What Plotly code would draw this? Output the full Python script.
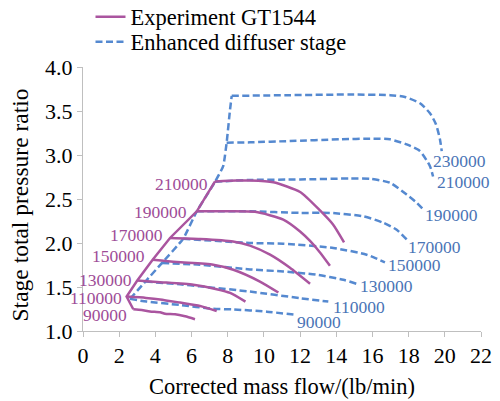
import plotly.graph_objects as go

# ---------------- data ----------------
speeds = ["90000", "110000", "130000", "150000", "170000", "190000", "210000", "230000"]

# Experiment GT1544 (purple, solid)
exp_x = {
    "90000":  [2.78, 3.24, 3.70, 4.26, 4.53, 5.09, 5.64, 6.19],
    "110000": [2.41, 3.48, 4.26, 5.36, 6.47, 7.39],
    "130000": [3.00, 4.26, 6.10, 7.39, 8.13, 8.98],
    "150000": [3.85, 5.18, 7.20, 8.31, 9.78, 10.80],
    "170000": [4.81, 6.47, 8.29, 9.23, 10.34, 11.44, 12.55],
    "190000": [6.29, 7.50, 9.51, 11.07, 12.00, 12.55, 13.10, 13.65],
    "210000": [7.30, 8.50, 9.23, 10.52, 12.00, 13.10, 13.82, 14.43],
}
exp_y = {
    "90000":  [1.247, 1.239, 1.222, 1.213, 1.196, 1.190, 1.167, 1.134],
    "110000": [1.391, 1.376, 1.359, 1.323, 1.285, 1.228],
    "130000": [1.574, 1.555, 1.525, 1.475, 1.433, 1.334],
    "150000": [1.810, 1.783, 1.753, 1.696, 1.562, 1.437],
    "170000": [2.057, 2.046, 2.018, 1.970, 1.867, 1.718, 1.536],
    "190000": [2.360, 2.360, 2.354, 2.266, 2.131, 2.023, 1.893, 1.741],
    "210000": [2.700, 2.710, 2.710, 2.690, 2.580, 2.370, 2.210, 2.007],
}
exp_surge_x = [2.78, 2.41, 3.00, 3.85, 4.81, 6.29, 7.30]
exp_surge_y = [1.247, 1.391, 1.574, 1.810, 2.057, 2.360, 2.700]

# Enhanced diffuser stage (blue, dashed)
enh_x = {
    "90000":  [2.60, 3.52, 5.36, 7.19, 8.29, 10.15, 11.81],
    "110000": [3.45, 5.36, 6.47, 9.23, 12.00, 13.56],
    "130000": [4.36, 6.47, 9.23, 11.07, 12.92, 14.39, 15.13],
    "150000": [5.54, 9.23, 11.07, 13.84, 15.68, 16.69],
    "170000": [6.29, 9.23, 12.00, 13.65, 15.49, 16.60, 17.34, 17.89],
    "190000": [7.30, 9.23, 12.00, 14.76, 15.87, 16.97, 17.89, 18.45, 18.81],
    "210000": [7.94, 9.23, 11.44, 14.20, 16.05, 16.97, 17.89, 18.63, 19.18, 19.35],
    "230000": [8.22, 11.44, 14.76, 16.97, 17.80, 18.63, 19.18, 19.51, 19.73, 19.83],
}
enh_y = {
    "90000":  [1.365, 1.334, 1.296, 1.252, 1.245, 1.220, 1.182],
    "110000": [1.562, 1.530, 1.507, 1.448, 1.373, 1.334],
    "130000": [1.772, 1.753, 1.700, 1.676, 1.639, 1.582, 1.536],
    "150000": [2.049, 2.000, 1.992, 1.943, 1.867, 1.779],
    "170000": [2.360, 2.360, 2.342, 2.342, 2.303, 2.230, 2.150, 2.040],
    "190000": [2.696, 2.716, 2.722, 2.733, 2.730, 2.684, 2.550, 2.456, 2.380],
    "210000": [3.140, 3.144, 3.159, 3.178, 3.186, 3.178, 3.120, 3.044, 2.873, 2.756],
    "230000": [3.672, 3.680, 3.687, 3.680, 3.660, 3.588, 3.474, 3.350, 3.180, 3.044],
}
enh_surge_x = [2.60, 3.45, 4.36, 5.54, 6.29, 7.30, 7.75, 7.94, 8.13, 8.22]
enh_surge_y = [1.365, 1.562, 1.772, 2.049, 2.360, 2.696, 2.873, 3.140, 3.520, 3.672]

x_ticks = [0, 2, 4, 6, 8, 10, 12, 14, 16, 18, 20, 22]
y_ticks = [1.0, 1.5, 2.0, 2.5, 3.0, 3.5, 4.0]

x_title = "Corrected mass flow/(lb/min)"
y_title = "Stage total pressure ratio"

# ---------------- styles ----------------
PURPLE = "#AA559F"
PURPLE_TXT = "#9E4C97"
BLUE = "#5589D0"
BLUE_TXT = "#4A74B6"
FONT = "Liberation Serif"

# label offsets (pixels) relative to line start (purple) / line end (blue)
exp_lab_dx = {"90000": -4.6, "110000": -2.9, "130000": -3.6, "150000": -5.6,
              "170000": -4.7, "190000": -8.1, "210000": -4.8}
exp_lab_dy = {"90000": -5.7, "110000": -1.0, "130000": 0.2, "150000": 3.3,
              "170000": 2.8, "190000": -0.3, "210000": -2.1}
enh_lab_dx = {"90000": -2, "110000": 2.7, "130000": 1.3, "150000": 1.1,
              "170000": -0.6, "190000": -0.3, "210000": 2, "230000": -10.7}
enh_lab_dy = {"90000": -6.7, "110000": -5.3, "130000": -2, "150000": -2.3,
              "170000": -7.5, "190000": -5, "210000": -6, "230000": -10}

fig = go.Figure()

purple_line = dict(color=PURPLE, width=2.5, shape="spline", smoothing=0.6)
blue_line = dict(color=BLUE, width=2.5, dash="7px,3.5px", shape="spline", smoothing=0.6)

# blue traces first (under purple)
first = True
for s in speeds:
    if s in enh_x:
        fig.add_trace(go.Scatter(x=enh_x[s], y=enh_y[s], mode="lines", line=blue_line,
                                 name="Enhanced diffuser stage", legend="legend2",
                                 showlegend=first, hoverinfo="skip"))
        first = False
fig.add_trace(go.Scatter(x=enh_surge_x, y=enh_surge_y, mode="lines",
                         line=dict(color=BLUE, width=2.5, dash="7px,3.5px", shape="spline", smoothing=0.4),
                         showlegend=False, legend="legend2", hoverinfo="skip"))

first = True
for s in speeds:
    if s in exp_x:
        fig.add_trace(go.Scatter(x=exp_x[s], y=exp_y[s], mode="lines", line=purple_line,
                                 name="Experiment GT1544", legend="legend",
                                 showlegend=first, hoverinfo="skip"))
        first = False
fig.add_trace(go.Scatter(x=exp_surge_x, y=exp_surge_y, mode="lines",
                         line=dict(color=PURPLE, width=2.5),
                         showlegend=False, hoverinfo="skip"))

annotations = []
for s in speeds:
    if s in exp_x:
        annotations.append(dict(x=exp_x[s][0], y=exp_y[s][0], xref="x", yref="y",
                                text=s, showarrow=False, xanchor="right", yanchor="middle",
                                xshift=exp_lab_dx[s], yshift=exp_lab_dy[s],
                                font=dict(family=FONT, size=17.5, color=PURPLE_TXT)))
    if s in enh_x:
        annotations.append(dict(x=enh_x[s][-1], y=enh_y[s][-1], xref="x", yref="y",
                                text=s, showarrow=False, xanchor="left", yanchor="middle",
                                xshift=enh_lab_dx[s], yshift=enh_lab_dy[s],
                                font=dict(family=FONT, size=17.5, color=BLUE_TXT)))

# y-axis title as a rotated annotation
annotations.append(dict(x=-0.158, y=0.476, xref="paper", yref="paper", text=y_title,
                        textangle=-90, showarrow=False, xanchor="center", yanchor="middle",
                        font=dict(family=FONT, size=23.5, color="#000000")))

axis_common = dict(showline=True, linecolor="#BFBFBF", linewidth=1, ticks="outside",
                   ticklen=5, tickcolor="#BFBFBF", showgrid=False, zeroline=False,
                   automargin=False,
                   tickfont=dict(family=FONT, size=22, color="#000000"))

fig.update_layout(
    width=500, height=401,
    margin=dict(l=83, r=19, t=67, b=70, autoexpand=False),
    paper_bgcolor="white", plot_bgcolor="white",
    font=dict(family=FONT, color="#000000"),
    xaxis=dict(range=[0, 22], tickvals=x_ticks, ticktext=[str(v) for v in x_ticks],
               title=dict(text=x_title, font=dict(family=FONT, size=22.5), standoff=10),
               **axis_common),
    yaxis=dict(range=[1, 4], tickvals=y_ticks, ticktext=[f"{v:.1f}" for v in y_ticks],
               **axis_common),
    legend=dict(xref="container", yref="container", x=0.181, y=1 - 17 / 401,
                xanchor="left", yanchor="middle", bgcolor="rgba(0,0,0,0)",
                font=dict(family=FONT, size=22.5, color="#000000"), borderwidth=0),
    legend2=dict(xref="container", yref="container", x=0.181, y=1 - 42 / 401,
                 xanchor="left", yanchor="middle", bgcolor="rgba(0,0,0,0)",
                 font=dict(family=FONT, size=22.5, color="#000000"), borderwidth=0),
    annotations=annotations,
)

fig.write_html("out.html")
